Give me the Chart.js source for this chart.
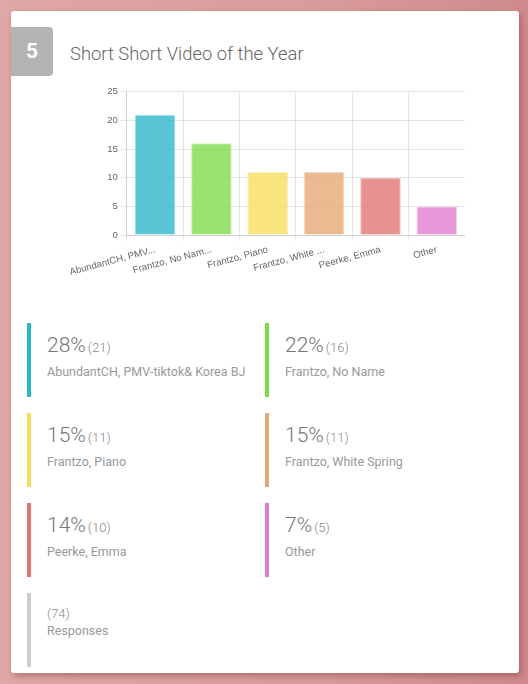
<!DOCTYPE html>
<html lang="en">
  <head>
    <meta charset="UTF-8" />
    <title>Short Short Video of the Year</title>
    <script src="https://cdn.jsdelivr.net/npm/chart.js"></script>
    <style>
      html, body {
        margin: 0;
        padding: 0;
        width: 528px;
        height: 684px;
        overflow: hidden;
      }
      body {
        background: linear-gradient(90deg, #e0a7a7 0%, #d99b9b 60%, #cf8b8b 100%);
        font-family: Roboto, "Noto Sans", sans-serif;
      }
      .card {
        position: absolute;
        left: 11px;
        top: 11px;
        width: 508px;
        height: 662px;
        background: white;
        border-radius: 3px;
        box-shadow: 2px 3px 6px rgba(90, 30, 30, 0.35);
      }
      .badge {
        position: absolute;
        left: 0;
        top: 16px;
        width: 42px;
        height: 49px;
        background: #b3b3b3;
        border-radius: 0 4px 4px 0;
        color: white;
        font-weight: bold;
        font-size: 21px;
        line-height: 49px;
        text-align: center;
      }
      .title {
        position: absolute;
        left: 59px;
        top: 32px;
        font-size: 18.4px;
        font-weight: 300;
        color: #666;
      }
      .chart-box {
        position: absolute;
        left: 54px;
        top: 72px;
        width: 400px;
        height: 198px;
      }
      .item {
        position: absolute;
        width: 220px;
        height: 74px;
        border-left: 4px solid #ccc;
      }
      .pct {
        position: absolute;
        left: 16px;
        top: 10px;
        font-size: 21px;
        font-weight: 300;
        color: #777;
      }
      .pct span {
        font-size: 13px;
        color: #888;
        margin-left: 2px;
      }
      .name {
        position: absolute;
        left: 16px;
        top: 41px;
        font-size: 12.5px;
        color: #999;
        white-space: nowrap;
      }
    </style>
  </head>
  <body>
    <div class="card">
      <div class="badge">5</div>
      <div class="title">Short Short Video of the Year</div>
      <div class="chart-box"><canvas id="chart"></canvas></div>
      <div id="legend"></div>
    </div>

    <script>
      const names = [
        "AbundantCH, PMV-tiktok& Korea BJ",
        "Frantzo, No Name",
        "Frantzo, Piano",
        "Frantzo, White Spring",
        "Peerke, Emma",
        "Other",
      ];
      const tickLabels = [
        "AbundantCH, PMV...",
        "Frantzo, No Nam...",
        "Frantzo, Piano",
        "Frantzo, White ...",
        "Peerke, Emma",
        "Other",
      ];
      const counts = [21, 16, 11, 11, 10, 5];
      const percents = [28, 22, 15, 15, 14, 7];
      const totalResponses = 74;
      const colors = [
        [42, 181, 201],
        [125, 219, 75],
        [247, 220, 92],
        [228, 168, 114],
        [224, 115, 115],
        [226, 122, 208],
      ];

      const rgba = (c, a) => `rgba(${c[0]}, ${c[1]}, ${c[2]}, ${a})`;

      // legend blocks under the chart
      let legendHtml = "";
      names.forEach((n, i) => {
        const left = i % 2 === 0 ? 16 : 254;
        const top = 312 + Math.floor(i / 2) * 90;
        legendHtml += `
          <div class="item" style="left:${left}px;top:${top}px;border-left-color:${rgba(colors[i], 1)}">
            <div class="pct">${percents[i]}%<span>(${counts[i]})</span></div>
            <div class="name">${n}</div>
          </div>`;
      });
      legendHtml += `
          <div class="item" style="left:16px;top:582px;border-left-color:#cccccc">
            <div class="pct" style="top:6px"><span style="margin:0">(${totalResponses})</span></div>
            <div class="name" style="top:30px">Responses</div>
          </div>`;
      document.getElementById("legend").innerHTML = legendHtml;

      let ctx = document.getElementById("chart").getContext("2d");
      new Chart(ctx, {
        type: "bar",
        data: {
          labels: tickLabels,
          datasets: [
            {
              data: counts,
              backgroundColor: colors.map((c) => rgba(c, 0.78)),
              borderColor: colors.map((c) => rgba(c, 0.4)),
              borderWidth: 1,
            },
          ],
        },
        options: {
          responsive: true,
          maintainAspectRatio: false,
          animation: false,
          plugins: { legend: { display: false }, tooltip: { enabled: false } },
          scales: {
            x: {
              grid: { color: "rgba(0,0,0,0.1)", tickLength: 6 },
              ticks: {
                color: "#666",
                font: { family: "Liberation Sans", size: 9.6 },
                minRotation: 15,
                maxRotation: 15,
                autoSkip: false,
              },
            },
            y: {
              min: 0,
              max: 25,
              grid: { color: "rgba(0,0,0,0.1)", tickLength: 6 },
              ticks: {
                stepSize: 5,
                color: "#666",
                font: { family: "Liberation Sans", size: 9.6 },
              },
            },
          },
        },
      });
    </script>
  </body>
</html>
